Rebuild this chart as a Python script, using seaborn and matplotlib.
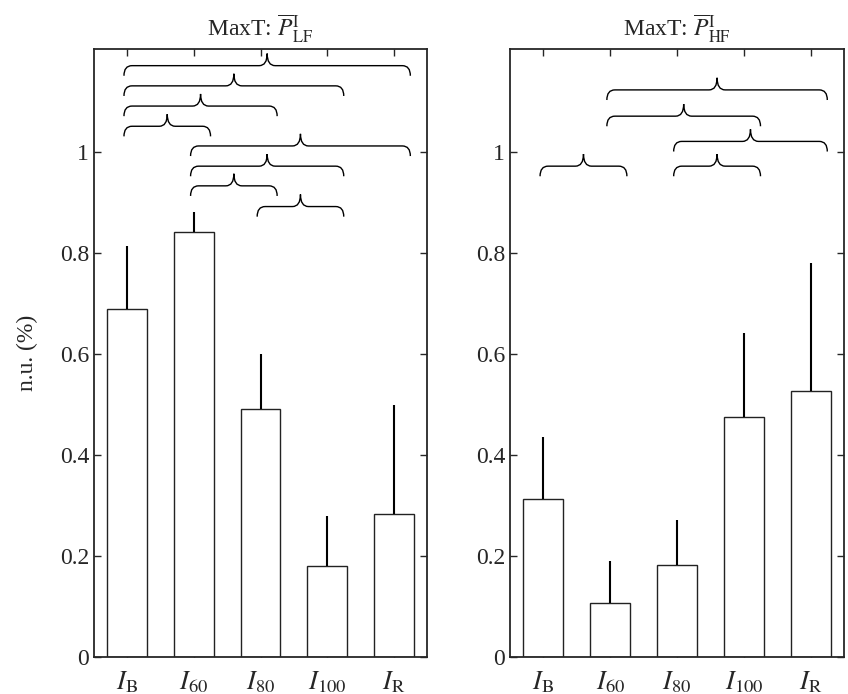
import matplotlib
matplotlib.use("Agg")
import matplotlib.pyplot as plt
import pandas as pd
import seaborn as sns
from matplotlib.path import Path
from matplotlib.patches import PathPatch
from matplotlib.ticker import FormatStrFormatter

# Data
conditions = ["$I_{\\rm B}$", "$I_{60}$", "$I_{80}$", "$I_{100}$", "$I_{\\rm R}$"]
lf_mean = [0.689, 0.842, 0.491, 0.180, 0.283]
lf_err = [0.125, 0.039, 0.109, 0.099, 0.216]
hf_mean = [0.312, 0.107, 0.183, 0.475, 0.526]
hf_err = [0.124, 0.083, 0.088, 0.167, 0.254]

# significance braces: (from condition, to condition), 1-based, and level
lf_pairs = [(1, 5), (1, 4), (1, 3), (1, 2), (2, 5), (2, 4), (2, 3), (3, 4)]
lf_levels = [1.171, 1.131, 1.091, 1.051, 1.012, 0.972, 0.933, 0.892]
hf_pairs = [(2, 5), (2, 4), (3, 5), (1, 2), (3, 4)]
hf_levels = [1.123, 1.071, 1.021, 0.972, 0.972]

titles = ["MaxT: $\\overline{P}_{\\rm LF}^{\\rm I}$",
          "MaxT: $\\overline{P}_{\\rm HF}^{\\rm I}$"]

sns.set_style("ticks")
plt.rcParams['font.family'] = ['Liberation Serif', 'DejaVu Serif']
plt.rcParams['mathtext.fontset'] = 'stix'
plt.rcParams['font.size'] = 17


def draw_brace(ax, x0, x1, y, rx=0.12, d=0.02, h=0.024):
    xm = (x0 + x1) / 2
    verts = [(x0, y - d), (x0, y), (x0 + rx, y),
             (xm - rx, y), (xm, y), (xm, y + h),
             (xm, y), (xm + rx, y),
             (x1 - rx, y), (x1, y), (x1, y - d)]
    codes = [Path.MOVETO, Path.CURVE3, Path.CURVE3,
             Path.LINETO, Path.CURVE3, Path.CURVE3,
             Path.CURVE3, Path.CURVE3,
             Path.LINETO, Path.CURVE3, Path.CURVE3]
    ax.add_patch(PathPatch(Path(verts, codes), facecolor='none',
                           edgecolor='black', lw=1.0, zorder=5))


fig = plt.figure(figsize=(8.48, 6.94), dpi=100)
ax1 = fig.add_axes([94 / 848, 37 / 694, 333 / 848, 608 / 694])
ax2 = fig.add_axes([510 / 848, 37 / 694, 334 / 848, 608 / 694])

panels = [(ax1, lf_mean, lf_err, lf_pairs, lf_levels, titles[0]),
          (ax2, hf_mean, hf_err, hf_pairs, hf_levels, titles[1])]

for ax, mean, err, pairs, levels, title in panels:
    df = pd.DataFrame({'cond': conditions, 'value': mean, 'err': err})
    sns.barplot(data=df, x='cond', y='value', ax=ax, color='white',
                saturation=1, edgecolor='#222222', linewidth=1.0,
                width=0.6, errorbar=None)
    # one-sided error bars
    ax.vlines(range(len(conditions)), df['value'], df['value'] + df['err'],
              color='black', lw=1.5, zorder=4)
    for (a, b), lev in zip(pairs, levels):
        draw_brace(ax, a - 1 - 0.05, b - 1 + 0.25, lev)

    ax.set_xlim(-0.5, 4.5)
    ax.set_ylim(0, 1.204)
    ax.set_yticks([0, 0.2, 0.4, 0.6, 0.8, 1.0])
    ax.yaxis.set_major_formatter(FormatStrFormatter('%g'))
    ax.tick_params(direction='in', top=True, right=True, length=5,
                   width=1, labelsize=17)
    ax.tick_params(axis='x', pad=9, labelsize=19)
    for s in ax.spines.values():
        s.set_linewidth(1.3)
    ax.set_xlabel('')
    ax.set_ylabel('')
    ax.set_title(title, fontsize=17, pad=9)

ax1.set_ylabel('n.u. (%)', fontsize=17, labelpad=16)

fig.savefig('out.png', dpi=100)
